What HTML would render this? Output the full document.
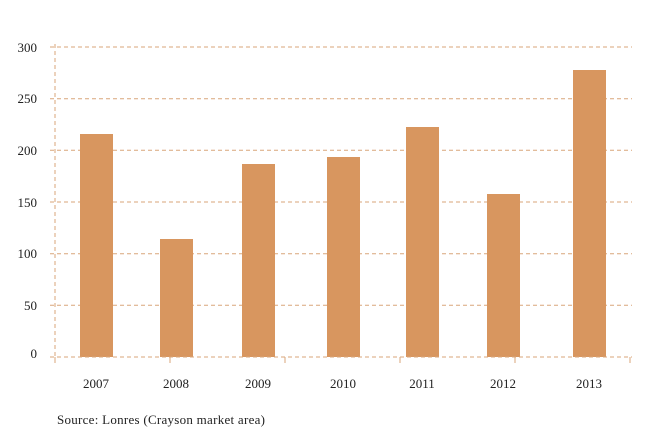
<!DOCTYPE html>
<html><head><style>body{margin:0;background:#fff}</style></head><body>
<svg width="648" height="432" xmlns="http://www.w3.org/2000/svg" font-family="Liberation Serif, serif" font-size="13" fill="#222">
<g stroke="#d9a57a" stroke-width="1" stroke-dasharray="4,3">
<line x1="50" y1="47" x2="632" y2="47"/>
<line x1="50" y1="98.7" x2="632" y2="98.7"/>
<line x1="50" y1="150.3" x2="632" y2="150.3"/>
<line x1="50" y1="202" x2="632" y2="202"/>
<line x1="50" y1="253.7" x2="632" y2="253.7"/>
<line x1="50" y1="305.3" x2="632" y2="305.3"/>
<line x1="55" y1="44" x2="55" y2="357"/>
</g>
<g fill="#d8965f">
<rect x="80" y="134" width="33" height="223"/>
<rect x="160" y="239" width="33" height="118"/>
<rect x="242" y="164" width="33" height="193"/>
<rect x="327" y="157" width="33" height="200"/>
<rect x="406" y="127" width="33" height="230"/>
<rect x="487" y="194" width="33" height="163"/>
<rect x="573" y="70" width="33" height="287"/>
</g>
<line x1="50" y1="357" x2="632" y2="357" stroke="#d9a57a" stroke-dasharray="4,3"/>
<g stroke="#d9a57a"><line x1="55" y1="357" x2="55" y2="363"/><line x1="170" y1="357" x2="170" y2="363"/><line x1="285" y1="357" x2="285" y2="363"/><line x1="400" y1="357" x2="400" y2="363"/><line x1="515" y1="357" x2="515" y2="363"/><line x1="630" y1="357" x2="630" y2="363"/></g>
<g text-anchor="end">
<text x="37" y="52">300</text><text x="37" y="103">250</text><text x="37" y="155">200</text><text x="37" y="207">150</text><text x="37" y="258">100</text><text x="37" y="310">50</text><text x="37" y="358">0</text>
</g>
<g text-anchor="middle">
<text x="96" y="388">2007</text><text x="176" y="388">2008</text><text x="258" y="388">2009</text><text x="343" y="388">2010</text><text x="422" y="388">2011</text><text x="503" y="388">2012</text><text x="589" y="388">2013</text>
</g>
<text x="57" y="424" textLength="208">Source: Lonres (Crayson market area)</text>
</svg>
</body></html>
